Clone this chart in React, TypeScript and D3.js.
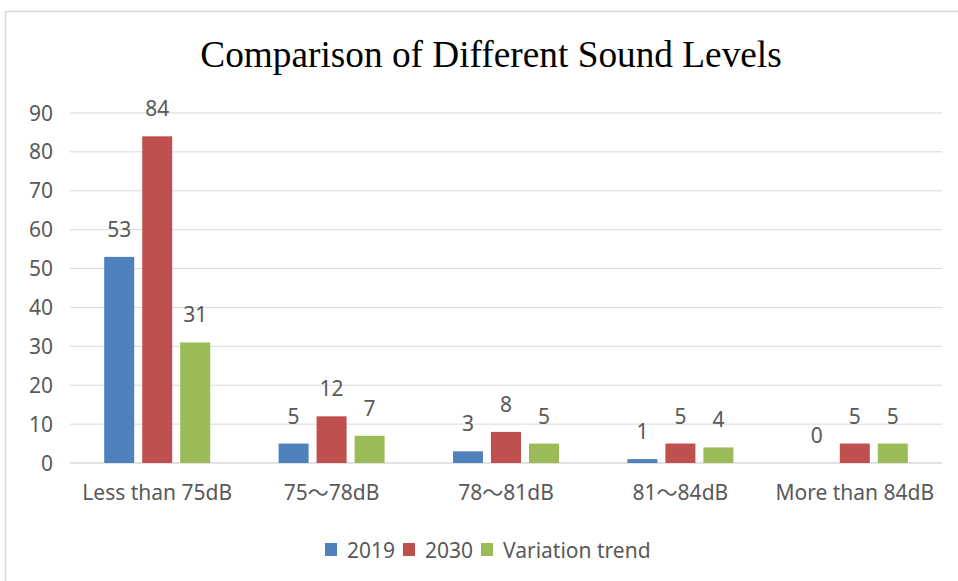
import React from "react";
import * as d3 from "d3";

const categories = ["Less than 75dB", "75～78dB", "78～81dB", "81～84dB", "More than 84dB"];
const seriesNames = ["2019", "2030", "Variation trend"];
const values2019 = [53, 5, 3, 1, 0];
const values2030 = [84, 12, 8, 5, 5];
const valuesTrend = [31, 7, 5, 4, 5];
const colors = ["#4f81bd", "#c0504d", "#9bbb59"];
const yTicks = [0, 10, 20, 30, 40, 50, 60, 70, 80, 90];

const W = 958, H = 581;
const left = 70, right = 942, top = 113, bottom = 463;

function Label({ text }: { text: string }) {
  const parts = text.split("～");
  if (parts.length === 1) return <>{text}</>;
  return (
    <>
      {parts[0]}
      <tspan fontFamily="'Noto Sans CJK SC', sans-serif">～</tspan>
      {parts[1]}
    </>
  );
}

export default function App() {
  const series = [values2019, values2030, valuesTrend];
  const x = d3.scaleBand<string>().domain(categories).range([left, right]);
  const y = d3.scaleLinear().domain([0, 90]).range([bottom, top]);
  const barW = 30, gap = 8;
  const font = "'Noto Sans', sans-serif";
  const textColor = "#595959";
  const fs = 21;
  return (
    <svg width={W} height={H} style={{ position: "absolute", left: 0, top: 0, background: "#fff" }}>
      <rect x={0} y={0} width={W} height={H} fill="#fff" />
      <path d={`M5.5,${H} V11.5 H${W}`} fill="none" stroke="#d9d9d9" strokeWidth={1.5} />
      <text x={491} y={67} textAnchor="middle" fontFamily="'Liberation Serif', serif" fontSize={37.3} fill="#000">
        Comparison of Different Sound Levels
      </text>
      {yTicks.map((t) => (
        <g key={t}>
          <line x1={left} x2={right} y1={y(t)} y2={y(t)} stroke="#d9d9d9" strokeWidth={t === 0 ? 1.5 : 1} />
          <text x={53} y={y(t) + 7.5} textAnchor="end" fontFamily={font} fontSize={fs} fill={textColor}>{t}</text>
        </g>
      ))}
      {categories.map((c, i) => {
        const cx = x(c)! + x.bandwidth() / 2;
        return (
          <g key={c}>
            {series.map((s, j) => {
              const bx = cx + (j - 1) * (barW + gap) - barW / 2;
              const v = s[i];
              return (
                <g key={j}>
                  {v > 0 && <rect x={bx} y={y(v)} width={barW} height={bottom - y(v)} fill={colors[j]} />}
                  <text x={bx + barW / 2} y={y(v) - 20} textAnchor="middle" fontFamily={font} fontSize={fs} fill={textColor}>{v}</text>
                </g>
              );
            })}
            <text x={cx} y={500} textAnchor="middle" fontFamily={font} fontSize={fs} fill={textColor}><Label text={c} /></text>
          </g>
        );
      })}
      {(() => {
        const items: JSX.Element[] = [];
        const widths = [48, 48, 150];
        let lx = 325;
        seriesNames.forEach((n, j) => {
          items.push(<rect key={"r" + j} x={lx} y={543} width={12} height={13} fill={colors[j]} />);
          items.push(<text key={"t" + j} x={lx + 22} y={558} fontFamily={font} fontSize={fs} fill={textColor}>{n}</text>);
          lx += 22 + widths[j] + 8;
        });
        return items;
      })()}
    </svg>
  );
}
